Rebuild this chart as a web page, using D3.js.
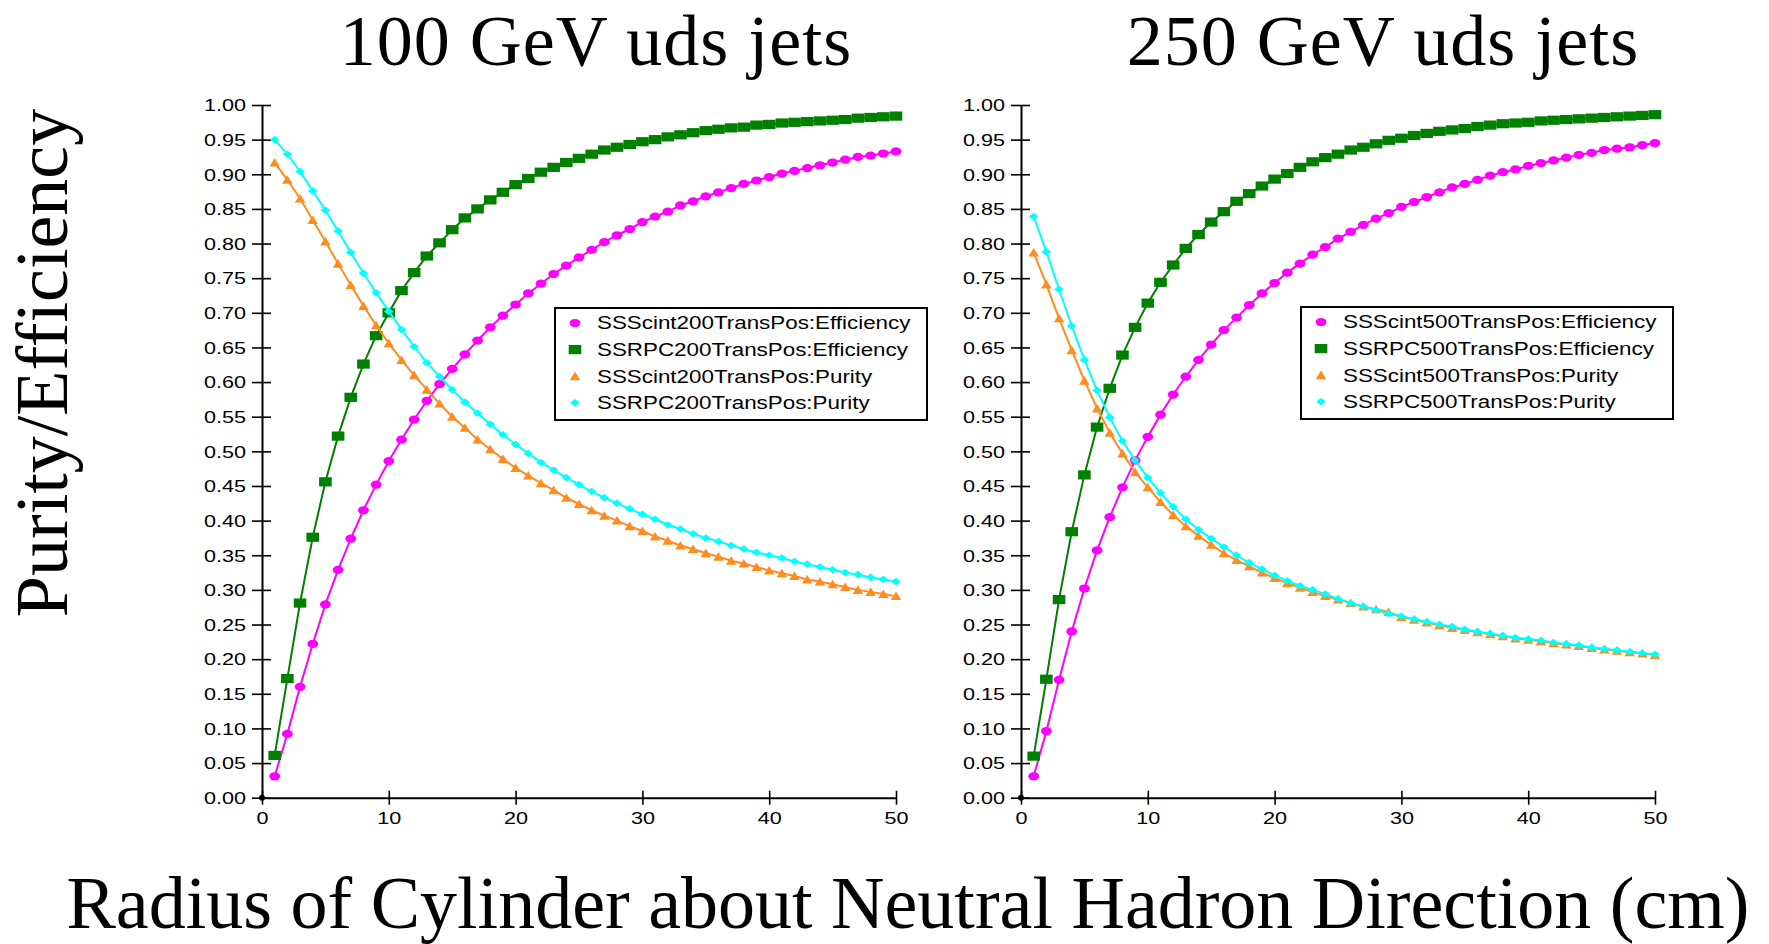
<!DOCTYPE html>
<html><head><meta charset="utf-8">
<script src="https://cdn.jsdelivr.net/npm/d3@7"></script>
<style>
html,body{margin:0;padding:0;background:#fff;}
svg{display:block;}
</style></head>
<body>
<svg id="chart" width="1769" height="944"></svg>
<script>
// ---------------- DATA ----------------
const radius = d3.range(1, 51); // 1..50 cm
const xTicks = [0, 10, 20, 30, 40, 50];
const yTicks = d3.range(0, 21).map(i => i * 0.05);

const panelTitles = ["100 GeV uds jets", "250 GeV uds jets"];
const yLabel = "Purity/Efficiency";
const xLabel = "Radius of Cylinder about Neutral Hadron Direction (cm)";

const names100 = ["SSScint200TransPos:Efficiency", "SSRPC200TransPos:Efficiency", "SSScint200TransPos:Purity", "SSRPC200TransPos:Purity"];
const names250 = ["SSScint500TransPos:Efficiency", "SSRPC500TransPos:Efficiency", "SSScint500TransPos:Purity", "SSRPC500TransPos:Purity"];

const scintEff100 = [0.031,0.092,0.160,0.222,0.279,0.329,0.374,0.415,0.452,0.486,0.517,0.546,0.573,0.597,0.619,0.640,0.660,0.679,0.696,0.712,0.728,0.742,0.756,0.768,0.780,0.791,0.802,0.812,0.821,0.831,0.839,0.846,0.855,0.861,0.868,0.874,0.880,0.886,0.891,0.896,0.901,0.905,0.909,0.913,0.917,0.921,0.925,0.927,0.930,0.933];
const rpcEff100 = [0.061,0.172,0.281,0.376,0.456,0.522,0.578,0.626,0.667,0.700,0.732,0.758,0.782,0.801,0.820,0.837,0.850,0.863,0.874,0.885,0.894,0.903,0.910,0.917,0.923,0.929,0.935,0.939,0.943,0.947,0.950,0.954,0.957,0.960,0.963,0.965,0.967,0.968,0.971,0.972,0.974,0.975,0.976,0.977,0.978,0.979,0.981,0.982,0.983,0.984];
const scintPur100 = [0.917,0.892,0.865,0.834,0.803,0.771,0.740,0.710,0.682,0.656,0.632,0.610,0.589,0.569,0.550,0.534,0.517,0.503,0.489,0.476,0.465,0.454,0.444,0.433,0.424,0.415,0.407,0.400,0.392,0.385,0.377,0.371,0.364,0.359,0.353,0.348,0.342,0.338,0.333,0.328,0.324,0.320,0.315,0.312,0.308,0.304,0.300,0.297,0.294,0.291];
const rpcPur100 = [0.950,0.929,0.904,0.876,0.848,0.818,0.787,0.757,0.729,0.702,0.676,0.651,0.628,0.608,0.589,0.571,0.555,0.539,0.524,0.510,0.497,0.484,0.473,0.462,0.452,0.442,0.433,0.425,0.417,0.409,0.402,0.394,0.388,0.381,0.375,0.370,0.364,0.359,0.354,0.350,0.346,0.341,0.337,0.333,0.329,0.325,0.322,0.318,0.315,0.312];

const scintEff250 = [0.031,0.096,0.170,0.240,0.302,0.357,0.405,0.448,0.487,0.521,0.553,0.582,0.608,0.632,0.654,0.675,0.693,0.711,0.728,0.743,0.758,0.771,0.784,0.795,0.807,0.817,0.827,0.836,0.844,0.853,0.860,0.867,0.874,0.881,0.886,0.892,0.898,0.903,0.907,0.912,0.916,0.920,0.924,0.928,0.931,0.935,0.937,0.939,0.942,0.945];
const rpcEff250 = [0.060,0.171,0.286,0.384,0.466,0.535,0.591,0.639,0.679,0.714,0.744,0.769,0.793,0.813,0.831,0.846,0.861,0.872,0.883,0.893,0.901,0.910,0.918,0.924,0.929,0.935,0.939,0.944,0.949,0.952,0.956,0.959,0.962,0.964,0.966,0.969,0.971,0.973,0.974,0.975,0.977,0.978,0.979,0.980,0.981,0.982,0.983,0.984,0.985,0.986];
const scintPur250 = [0.787,0.741,0.692,0.646,0.602,0.562,0.527,0.497,0.470,0.448,0.427,0.408,0.392,0.378,0.365,0.353,0.343,0.334,0.325,0.317,0.310,0.303,0.297,0.291,0.286,0.281,0.276,0.272,0.268,0.261,0.257,0.253,0.249,0.245,0.242,0.239,0.236,0.233,0.230,0.228,0.226,0.223,0.221,0.219,0.216,0.214,0.212,0.210,0.208,0.206];
const rpcPur250 = [0.839,0.788,0.734,0.681,0.632,0.588,0.549,0.515,0.487,0.462,0.440,0.420,0.402,0.387,0.374,0.362,0.350,0.339,0.330,0.321,0.313,0.306,0.300,0.294,0.287,0.281,0.276,0.271,0.266,0.262,0.258,0.254,0.250,0.247,0.243,0.240,0.237,0.234,0.231,0.229,0.227,0.224,0.222,0.220,0.217,0.215,0.213,0.211,0.209,0.207];

// ---------------- STYLE / LAYOUT ----------------
const colors = ["#ff00ff", "#008000", "#ff8c1e", "#00ffff"];
const shapes = ["circle", "square", "triangle", "diamond"];
const SX_TICK = 1.35;   // horizontal stretch of the tick labels
const SX_LEG = 1.28;    // horizontal stretch of the legend labels

const svg = d3.select("#chart");
const serif = "'Liberation Serif','Times New Roman',Times,serif";
const sans = "'Liberation Sans',Arial,Helvetica,sans-serif";

const panels = [
  {left: 262, right: 896, title: panelTitles[0], titleX: 596, names: names100,
   series: [scintEff100, rpcEff100, scintPur100, rpcPur100], legend: {x: 555, y: 308, w: 372, h: 112}},
  {left: 1021, right: 1655, title: panelTitles[1], titleX: 1383, names: names250,
   series: [scintEff250, rpcEff250, scintPur250, rpcPur250], legend: {x: 1301, y: 307, w: 372, h: 112}}
];
const plotTop = 105, plotBottom = 797.7;

function marker(sel, shape, color) {
  if (shape === "circle") {
    sel.append("ellipse").attr("rx", 5.4).attr("ry", 4.1).attr("fill", color);
  } else if (shape === "square") {
    sel.append("rect").attr("x", -6.3).attr("y", -4.6).attr("width", 12.6).attr("height", 9.2).attr("fill", color);
  } else if (shape === "triangle") {
    sel.append("path").attr("d", "M0,-4.6L5.2,4.0L-5.2,4.0Z").attr("fill", color);
  } else {
    sel.append("path").attr("d", "M0,-3.8L4.8,0L0,3.8L-4.8,0Z").attr("fill", color);
  }
}

panels.forEach(p => {
  const x = d3.scaleLinear().domain([0, 50]).range([p.left, p.right]);
  const y = d3.scaleLinear().domain([0, 1]).range([plotBottom, plotTop]);

  // Title
  svg.append("text").attr("x", p.titleX).attr("y", 65).attr("text-anchor", "middle")
    .attr("font-family", serif).attr("font-size", 72).attr("letter-spacing", 1)
    .attr("fill", "#000").text(p.title);

  // Y axis
  const ya = svg.append("g").attr("transform", `translate(${p.left},0)`)
    .call(d3.axisLeft(y).tickValues(yTicks).tickFormat(d3.format(".2f")).tickSize(10).tickSizeOuter(0));
  ya.select(".domain").attr("stroke", "#000").attr("stroke-width", 2);
  ya.selectAll(".tick line").attr("x1", 9).attr("x2", -10).attr("stroke", "#000").attr("stroke-width", 1.6);
  ya.selectAll(".tick text").attr("x", -16 / SX_TICK).attr("dy", "0.36em")
    .attr("transform", `scale(${SX_TICK},1)`)
    .attr("font-family", sans).attr("font-size", 16).attr("fill", "#000");

  // X axis
  const xa = svg.append("g").attr("transform", `translate(0,${plotBottom})`)
    .call(d3.axisBottom(x).tickValues(xTicks).tickFormat(d3.format("d")).tickSize(7).tickSizeOuter(0));
  xa.select(".domain").attr("stroke", "#000").attr("stroke-width", 2);
  xa.selectAll(".tick line").attr("y1", -7).attr("y2", 7).attr("stroke", "#000").attr("stroke-width", 1.6);
  xa.selectAll(".tick text").attr("x", 0).attr("y", 21).attr("dy", "0.35em")
    .attr("transform", `scale(${SX_TICK},1)`)
    .attr("font-family", sans).attr("font-size", 16).attr("fill", "#000");

  // origin dot
  svg.append("circle").attr("cx", x(0)).attr("cy", y(0)).attr("r", 3).attr("fill", "#000");

  // Series
  const line = d3.line().x((d, i) => x(radius[i])).y(d => y(d));
  p.series.forEach((vals, si) => {
    svg.append("path").datum(vals).attr("d", line).attr("fill", "none")
      .attr("stroke", colors[si]).attr("stroke-width", 2);
    const g = svg.append("g");
    vals.forEach((v, i) => {
      const m = g.append("g").attr("transform", `translate(${x(radius[i])},${y(v)})`);
      marker(m, shapes[si], colors[si]);
    });
  });

  // Legend
  const L = p.legend;
  const lg = svg.append("g").attr("transform", `translate(${L.x},${L.y})`);
  lg.append("rect").attr("width", L.w).attr("height", L.h).attr("fill", "#fff")
    .attr("stroke", "#000").attr("stroke-width", 2);
  p.names.forEach((n, i) => {
    const row = lg.append("g").attr("transform", `translate(0,${15 + i * 26.6})`);
    const mk = row.append("g").attr("transform", "translate(20,0)");
    marker(mk, shapes[i], colors[i]);
    row.append("text").attr("x", 42 / SX_LEG).attr("dy", "0.36em")
      .attr("transform", `scale(${SX_LEG},1)`)
      .attr("font-family", sans).attr("font-size", 17.5).attr("fill", "#000").text(n);
  });
});

// Y label
svg.append("text").attr("transform", "translate(67,363) rotate(-90)")
  .attr("text-anchor", "middle").attr("font-family", serif).attr("font-size", 74)
  .attr("fill", "#000").text(yLabel);

// X label
svg.append("text").attr("x", 908).attr("y", 928).attr("text-anchor", "middle")
  .attr("font-family", serif).attr("font-size", 74).attr("fill", "#000").text(xLabel);
</script>
</body></html>
